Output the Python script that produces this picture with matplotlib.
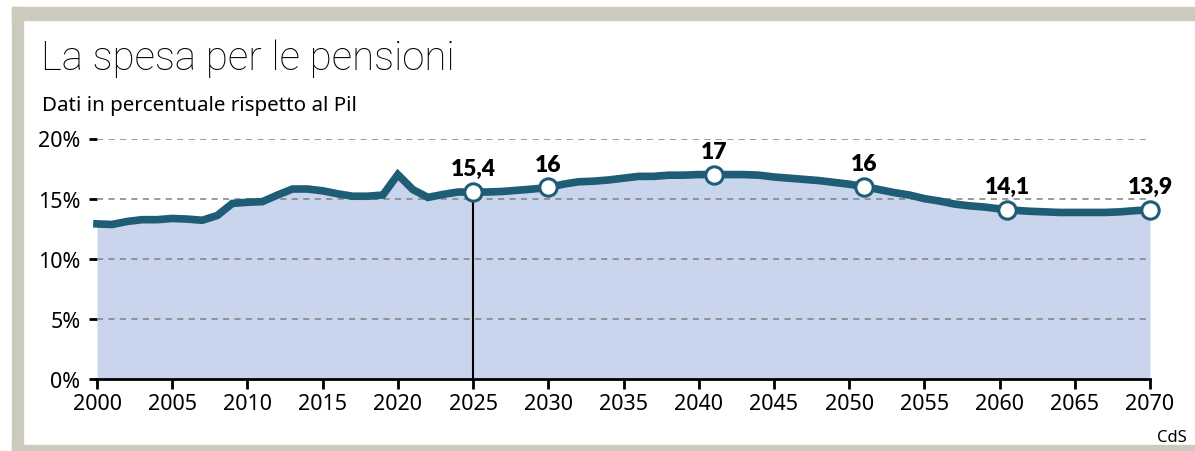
import matplotlib.pyplot as plt
from matplotlib.patches import Rectangle
import numpy as np

# dati (percentuale del Pil)
anni = list(range(2000, 2061)) + [2060.5] + list(range(2061, 2071))
spesa = [12.9, 12.85, 13.1, 13.25, 13.25, 13.35, 13.3, 13.2, 13.6, 14.6,
         14.7, 14.75, 15.3, 15.8, 15.8, 15.65, 15.4, 15.2, 15.2, 15.3,
         17.0, 15.75, 15.1, 15.35, 15.55, 15.55, 15.55, 15.6, 15.7, 15.8,
         15.93, 16.2, 16.4, 16.45, 16.55, 16.7, 16.85, 16.85, 16.95, 16.95,
         17.0, 17.0, 17.0, 17.0, 16.95, 16.8, 16.7, 16.6, 16.5, 16.35,
         16.2, 16.0, 15.75, 15.5, 15.3, 15.0, 14.8, 14.55, 14.4, 14.3,
         14.15, 14.07, 14.03, 13.95, 13.9, 13.85, 13.85, 13.85, 13.85, 13.9,
         14.0, 14.07]

punti_anni = [2025, 2030, 2041, 2051, 2060.5, 2070]
punti_etichette = ["15,4", "16", "17", "16", "14,1", "13,9"]

anni_tick = list(range(2000, 2071, 5))
y_tick = [0, 5, 10, 15, 20]

blu = "#1f5d77"
riemp = "#c9d5ec"
cornice = "#cccabc"

W, H = 1195, 452
fig = plt.figure(figsize=(W / 100, H / 100), dpi=100)

# cornice grigia
fig.patches.append(Rectangle((12 / W, 1 - 21 / H), 1 - 12 / W, 13 / H,
                             transform=fig.transFigure, color=cornice, zorder=0))
fig.patches.append(Rectangle((12 / W, 0), 11 / W, 1 - 8 / H,
                             transform=fig.transFigure, color=cornice, zorder=0))
fig.patches.append(Rectangle((12 / W, 0), 1 - 12 / W, 6 / H,
                             transform=fig.transFigure, color=cornice, zorder=0))

fig.text(41 / W, 1 - 70 / H, "La spesa per le pensioni", family="Roboto",
         weight="light", fontsize=29, va="baseline", ha="left")
fig.text(42 / W, 1 - 111 / H, "Dati in percentuale rispetto al Pil",
         family="Noto Sans", fontsize=14.8, va="baseline", ha="left")
fig.text(1187 / W, 1 - 442 / H, "CdS", family="Noto Sans", fontsize=12,
         va="baseline", ha="right")

ax = fig.add_axes([97 / W, 1 - 380 / H, (1150 - 97) / W, (380 - 139.5) / H])
ax.set_xlim(2000, 2070)
ax.set_ylim(0, 20)

ax.fill_between(anni, spesa, 0, color=riemp, lw=0, zorder=1)
for v in y_tick[1:]:
    ax.plot([2000, 2069.8], [v, v], ls=(0, (4, 3.5)), color="#808080", lw=1.1, zorder=2)

# linea verticale 2025
v2025 = np.interp(2025, anni, spesa)
ax.plot([2025, 2025], [0, v2025], color="black", lw=1.5, zorder=3)

ax.plot(anni, spesa, color=blu, lw=5.5, solid_joinstyle="miter", zorder=4, clip_on=False)
punti_val = np.interp(punti_anni, anni, spesa)
ax.plot(punti_anni, punti_val, "o", ms=12.5, mfc="white", mec=blu, mew=2.2,
        zorder=5, clip_on=False)
for x, v, t in zip(punti_anni, punti_val, punti_etichette):
    ax.annotate(t, (x, v), xytext=(0, 12), textcoords="offset points", ha="center",
                va="baseline", family="Lato", weight="heavy", fontsize=16.5)

for s in ["top", "right", "left"]:
    ax.spines[s].set_visible(False)
ax.spines["bottom"].set_linewidth(2)
ax.spines["bottom"].set_zorder(6)

ax.set_xticks(anni_tick)
ax.set_xticklabels([str(a) for a in anni_tick], family="Noto Sans", fontsize=15.5)
ax.set_yticks(y_tick)
ax.set_yticklabels([f"{v}%" for v in y_tick], family="Noto Sans", fontsize=15.5)
ax.tick_params(axis="x", length=7, width=2, pad=3)
ax.tick_params(axis="y", length=6, width=2, pad=6)

fig.savefig("out.png", dpi=100)
